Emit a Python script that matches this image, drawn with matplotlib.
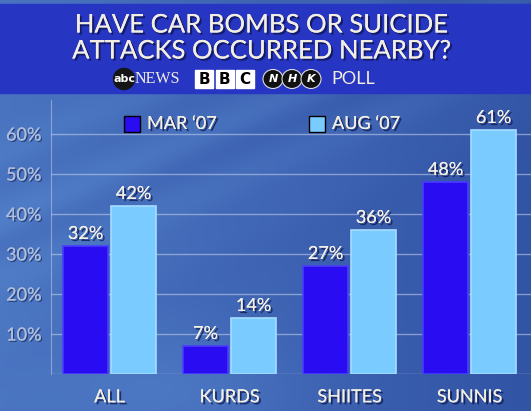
import numpy as np
import matplotlib
matplotlib.use("Agg")
import matplotlib.pyplot as plt
from matplotlib.patches import Rectangle, Ellipse
import matplotlib.patheffects as pe

categories = ["ALL", "KURDS", "SHIITES", "SUNNIS"]
mar_07 = [32, 7, 27, 48]
aug_07 = [42, 14, 36, 61]
series_labels = ["MAR \u201807", "AUG \u201807"]
yticks = [10, 20, 30, 40, 50, 60]
title_lines = ["HAVE CAR BOMBS OR SUICIDE", "ATTACKS OCCURRED NEARBY?"]

W, H = 531, 411
FONT = "Lato"
fig = plt.figure(figsize=(W / 100, H / 100), dpi=100)

def fx(x):
    return x / W

def fy(y):
    return 1 - y / H

# background gradient with diagonal streaks
bg = fig.add_axes([0, 0, 1, 1])
bg.set_axis_off()
yy, xx = np.mgrid[0:1:300j, 0:1:400j]
base = 0.62 - 0.38 * xx + 0.15 * np.exp(-((xx - 0.35) ** 2 / 0.05 + (yy - 0.95) ** 2 / 0.02))
band = yy + 0.55 * xx
streak = 0.10 * np.exp(-((band - 0.55) ** 2) / 0.002) + 0.08 * np.exp(-((band - 0.72) ** 2) / 0.004) \
    + 0.06 * np.exp(-((band - 0.38) ** 2) / 0.003) + 0.05 * np.sin(band * 40) * np.exp(-((band - 0.6) ** 2) / 0.05)
val = np.clip(base + streak, 0, 1)
dark = np.array([0.14, 0.25, 0.58])
light = np.array([0.38, 0.58, 0.86])
img = dark[None, None, :] + (light - dark)[None, None, :] * val[..., None]
bg.imshow(img, extent=[0, 1, 0, 1], aspect="auto", origin="upper")
bg.set_xlim(0, 1)
bg.set_ylim(0, 1)

# banner
bg.add_patch(Rectangle((0, fy(93)), 1, fy(4) - fy(93), color="#2736c2", zorder=2))

shadow = [pe.withSimplePatchShadow(offset=(1.5, -1.5), shadow_rgbFace="#0a1040", alpha=0.7), pe.Normal()]
for i, line in enumerate(title_lines):
    fig.text(fx(262), fy(25 + i * 26), line, ha="center", va="center", fontsize=18.5,
             color="#f2eee2", family=FONT, path_effects=shadow)

# logos row
ly = 79
bg.add_patch(Ellipse((fx(124), fy(ly)), 21 / W, 21 / H, color="#151515", zorder=3))
fig.text(fx(124), fy(ly), "abc", ha="center", va="center", fontsize=8, color="white",
         family="DejaVu Sans", weight="bold")
fig.text(fx(135), fy(ly), "NEWS", ha="left", va="center", fontsize=11.5, color="#f2eee2",
         family="Liberation Serif")
for k, ch in enumerate("BBC"):
    x0 = 195 + k * 20.5
    bg.add_patch(Rectangle((fx(x0), fy(ly + 9)), 18 / W, 18 / H, color="white", zorder=3))
    fig.text(fx(x0 + 9), fy(ly), ch, ha="center", va="center", fontsize=11, color="black",
             family="DejaVu Sans", weight="bold")
for k, ch in enumerate("NHK"):
    cx = 273 + k * 19
    bg.add_patch(Ellipse((fx(cx), fy(ly)), 20 / W, 19 / H, facecolor="#111111",
                         edgecolor="#dddddd", lw=0.8, zorder=3))
    fig.text(fx(cx), fy(ly), ch, ha="center", va="center", fontsize=8, color="white",
             family="DejaVu Sans", weight="bold", style="italic")
fig.text(fx(331), fy(ly), "POLL", ha="left", va="center", fontsize=13, color="#f2eee2",
         family=FONT)

# chart axes
x_left, x_right, y_top, y_base = 51, 531, 100, 374
ax = fig.add_axes([fx(x_left), fy(y_base), fx(x_right) - fx(x_left), fy(y_top) - fy(y_base)])
ax.patch.set_alpha(0)
ax.set_ylim(0, (y_base - y_top) / 4.0)
ax.set_xlim(-0.4875, 3.5125)

x = np.arange(len(categories))
bw = 0.375
off = 0.2
colors = ["#2a0cf2", "#7acbff"]
edges = ["#4a3cff", "#a6dcff"]
for vals, sgn, c, ec in [(mar_07, -1, colors[0], edges[0]), (aug_07, 1, colors[1], edges[1])]:
    bars = ax.bar(x + sgn * off, vals, width=bw, color=c, edgecolor=ec, linewidth=1.2, zorder=3)
    for b, v in zip(bars, vals):
        ax.text(b.get_x() + b.get_width() / 2, v + 1.0, f"{v}%", ha="center", va="bottom",
                fontsize=13, color="#f4f0e6", family=FONT, zorder=4, path_effects=shadow)

ax.set_yticks(yticks)
ax.set_yticklabels([f"{t}%" for t in yticks], family=FONT, fontsize=13, color="#b0bedc")
for t in ax.get_yticklabels():
    t.set_path_effects([pe.withSimplePatchShadow(offset=(1, -1), shadow_rgbFace="#102050", alpha=0.6), pe.Normal()])
ax.tick_params(axis="y", length=0, pad=7)
ax.yaxis.grid(True, color="#c8d4ee", alpha=0.55, lw=1)
ax.axhline(0, color="#c8d4ee", alpha=0.6, lw=1)
ax.set_xticks(x)
ax.set_xticklabels(categories, family=FONT, fontsize=13, color="#f2eee2")
for t in ax.get_xticklabels():
    t.set_path_effects(shadow)
ax.tick_params(axis="x", length=0, pad=11)
for s in ["top", "right", "bottom"]:
    ax.spines[s].set_visible(False)
ax.spines["left"].set_color("#c8d4ee")
ax.spines["left"].set_alpha(0.5)

# legend
leg_pos = [124, 309]
for lx, lab, c in zip(leg_pos, series_labels, colors):
    bg.add_patch(Rectangle((fx(lx), fy(132)), 16 / W, 16 / H, facecolor=c, edgecolor="black",
                           lw=1, zorder=3))
    fig.text(fx(lx + 23), fy(124), lab, ha="left", va="center", fontsize=13, color="#f2eee2",
             family=FONT, path_effects=shadow)

fig.savefig("out.png", dpi=100)
